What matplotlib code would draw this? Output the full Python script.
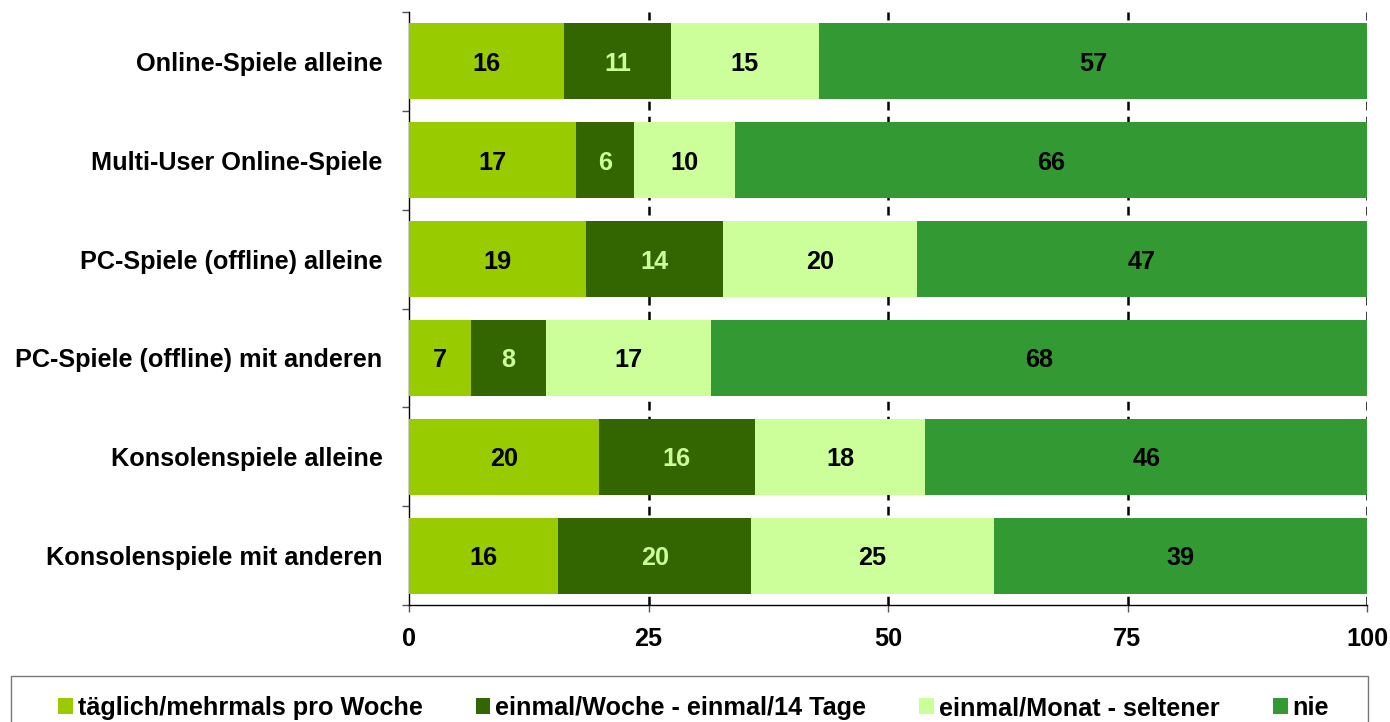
import matplotlib
matplotlib.use("Agg")
import matplotlib.pyplot as plt
from matplotlib.patches import Rectangle, Patch
import numpy as np

plt.rcParams['font.family'] = ['Liberation Sans', 'DejaVu Sans']

# =============================
# Data
# =============================
categories = ['Online-Spiele alleine', 'Multi-User Online-Spiele',
              'PC-Spiele (offline) alleine', 'PC-Spiele (offline) mit anderen',
              'Konsolenspiele alleine', 'Konsolenspiele mit anderen']
series_names = ['täglich/mehrmals pro Woche', 'einmal/Woche - einmal/14 Tage',
                'einmal/Monat - seltener', 'nie']
taeglich = [16.2, 17.4, 18.5, 6.5, 19.8, 15.6]
woche = [11.1, 6.1, 14.3, 7.8, 16.3, 20.1]
monat = [15.5, 10.5, 20.2, 17.2, 17.8, 25.4]
nie = [57.2, 66.0, 47.0, 68.5, 46.1, 38.9]
lab_taeglich = [16, 17, 19, 7, 20, 16]
lab_woche = [11, 6, 14, 8, 16, 20]
lab_monat = [15, 10, 20, 17, 18, 25]
lab_nie = [57, 66, 47, 68, 46, 39]
xticks = [0, 25, 50, 75, 100]

colors = ['#99CC00', '#336600', '#CCFF99', '#339933']
text_colors = ['black', '#CCFF99', 'black', 'black']
FS = 18.2

# =============================
# Figure
# =============================
W, H = 1390, 722
fig = plt.figure(figsize=(W / 100, H / 100), dpi=100)
ax = fig.add_axes([409 / W, 1 - 605 / H, (1367 - 409) / W, (605 - 12) / H])

y = np.arange(len(categories))
left = np.zeros(len(categories))
values = [taeglich, woche, monat, nie]
labels = [lab_taeglich, lab_woche, lab_monat, lab_nie]
for vals, labs, c, tc in zip(values, labels, colors, text_colors):
    ax.barh(y, vals, left=left, height=0.77, color=c, zorder=3)
    for yi, l, v, lab in zip(y, left, vals, labs):
        ax.text(l + v / 2, yi, str(lab), ha='center', va='center_baseline',
                fontsize=FS, fontweight='bold', color=tc, zorder=4)
    left = left + np.array(vals)

ax.set_xlim(0, 100)
ax.set_ylim(len(categories) - 0.5, -0.5)

# dashed vertical gridlines
for xv in xticks[1:]:
    ax.axvline(xv, color='black', linestyle=(0, (3.5, 2.5)), linewidth=1.8, zorder=1)

ax.spines['top'].set_visible(False)
ax.spines['right'].set_visible(False)
ax.spines['left'].set_linewidth(1.0)
ax.spines['bottom'].set_linewidth(1.0)

ax.set_xticks(xticks)
ax.set_xticklabels([str(t) for t in xticks], fontsize=FS, fontweight='bold')
ax.tick_params(axis='x', length=5, width=1, color='#555555', pad=11)

ax.set_yticks(y)
ax.set_yticklabels(categories, fontsize=FS, fontweight='bold', va='center_baseline')
ax.set_yticks(np.arange(-0.5, len(categories), 1.0), minor=True)
ax.tick_params(axis='y', which='major', length=0, pad=19)
ax.tick_params(axis='y', which='minor', length=5, width=1, color='#555555')

# =============================
# Legend
# =============================
fig.patches.append(Rectangle((11 / W, -0.05), (1368 - 11) / W, 0.05 + 1 - 676 / H,
                             transform=fig.transFigure, fill=False,
                             edgecolor='#777777', linewidth=1.0))
handles = [Patch(facecolor=c, edgecolor='none') for c in colors]
fig.legend(handles, series_names, loc='center', ncol=4,
           bbox_to_anchor=(693.5 / W, 1 - 708 / H), frameon=False,
           prop={'size': FS, 'weight': 'bold'},
           handlelength=0.58, handleheight=0.58, handletextpad=0.2,
           columnspacing=2.1, borderpad=0, borderaxespad=0)

fig.savefig('out.png', dpi=100)
